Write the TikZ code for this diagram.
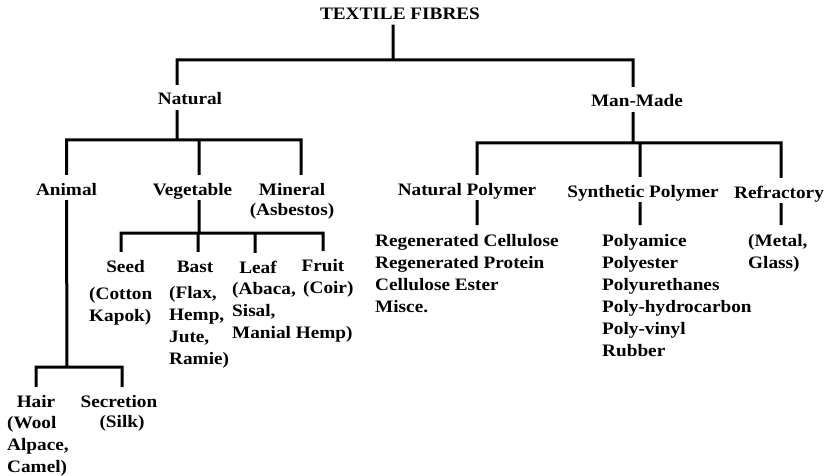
\documentclass[tikz,border=0pt]{standalone}
\usepackage{fontspec}
\setmainfont{Liberation Serif}[FakeStretch=1.1]
\usetikzlibrary{positioning}
\tikzset{
every node/.style={font=\bfseries\fontsize{17.5}{22}\selectfont, inner sep=0pt}, % bold serif for every label
head/.style={anchor=base, text height=20pt, text depth=5pt}, % the gap above a heading is inside its box
notes/.style={align=left, anchor=north west, outer ysep=9pt}, % lists hang 9pt below their anchor
sub/.style={align=center}, % short note right under a heading
branch/.style={line width=3pt}, % the tree lines
}

\begin{document}
\begin{tikzpicture}[x=1pt, y=-1pt]
      \useasboundingbox (0,0) rectangle (827,476);
      \node[head] (root) at (400,19.5) {TEXTILE FIBRES};
      \node[head] (nat) at (190,105) {Natural};
      \node[head] (man) at (637,107) {Man-Made};
      \node[head] (ani) at (66.5,195) {Animal};
      \node[head] (veg) at (192.5,195) {Vegetable};
      \node[head] (min) at (292,195) {Mineral};
      \node[sub, below=2.5pt of min] (asb) {(Asbestos)};
      \node[head] (seed) at (125.5,272) {Seed};
      \node[head] (bast) at (195,272) {Bast};
      \node[head] (leaf) at (258,273) {Leaf};
      \node[head] (fruit) at (323,271) {Fruit};
      \node[notes] (cot) at (89,278) {(Cotton\\Kapok)};
      \node[notes] (bastl) at (169,277) {(Flax,\\Hemp,\\Jute,\\Ramie)};
      \node[notes] (leafl) at (232,273) {(Abaca,\\Sisal,\\Manial Hemp)};
      \node[notes] (fruitl) at (303,272) {(Coir)};
      \node[head] (hair) at (36,407) {Hair};
      \node[head] (sec) at (119,407) {Secretion};
      \node[sub, below=2.5pt of sec, xshift=3pt] (silk) {(Silk)};
      \node[notes] (hairl) at (7,407) {(Wool\\Alpace,\\Camel)};
      \node[head] (np) at (467,195) {Natural Polymer};
      \node[head] (sp) at (643,197) {Synthetic Polymer};
      \node[head] (ref) at (779,198) {Refractory};
      \node[notes] (npl) at (375,225) {Regenerated Cellulose\\Regenerated Protein\\Cellulose Ester\\Misce.};
      \node[notes] (spl) at (602,225) {Polyamice\\Polyester\\Polyurethanes\\Poly-hydrocarbon\\Poly-vinyl\\Rubber};
      \node[notes] (refl) at (748,225) {(Metal,\\Glass)};

      % junctions on the bus lines
      \coordinate (t) at (393,60);
      \coordinate (tn) at (177,60);
      \coordinate (tm) at (633,60);
      \coordinate (n) at (177,140);
      \coordinate (nv) at (199,140);
      \coordinate (nm) at (301,140);
      \coordinate (a) at (67,367);
      \coordinate (as) at (122,367);
      \coordinate (v) at (199,233);
      \coordinate (vs) at (121,233);
      \coordinate (vb) at (198,233);
      \coordinate (vl) at (255,233);
      \coordinate (m) at (633,143);
      \coordinate (mn) at (477,143);
      \coordinate (ms) at (640,143);
      \coordinate (mr) at (781,143);

      \draw[branch] (root.south -| t) -- (t)
      (nat.north -| tn) |- (tm) -- (man.north -| tm)
      (nat.south -| n) -- (n)
      (ani.north) |- (nm) -- (min.north -| nm)
      (veg.north -| nv) -- (nv)
      (ani.south) -- (a)
      (hair.north) |- (as) -- (sec.north -| as)
      (veg.south -| v) -- (v)
      (seed.north -| vs) |- (fruit.north |- v) -- (fruit.north)
      (bast.north -| vb) -- (vb)
      (leaf.north -| vl) -- (vl)
      (man.south -| m) -- (m)
      (np.north -| mn) |- (mr) -- (ref.north -| mr)
      (sp.north -| ms) -- (ms)
      (np.south -| mn) -- (npl.north -| mn)
      (sp.south -| ms) -- (spl.north -| ms)
      (ref.south -| mr) -- (refl.north -| mr);
    \end{tikzpicture}
\end{document}
